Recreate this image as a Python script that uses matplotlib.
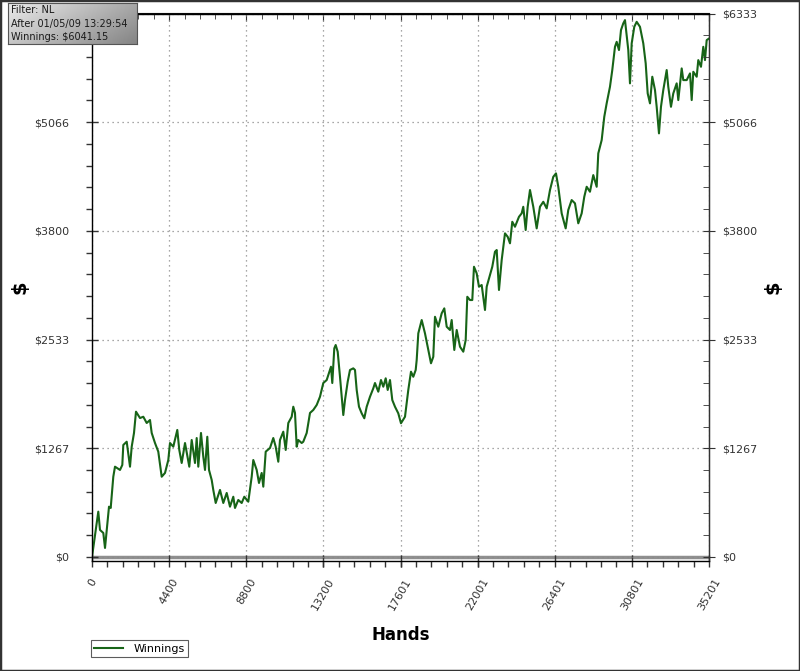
import numpy as np
import matplotlib
matplotlib.use("Agg")
import matplotlib.pyplot as plt
from matplotlib.patches import Rectangle
from matplotlib.lines import Line2D

# hand number vs cumulative winnings ($)
hands = [0, 268, 359, 456, 645, 742, 839, 970, 1067, 1215, 1312, 1597, 1729, 1786, 1980,
         2168, 2265, 2396, 2510, 2738, 2927, 3121, 3309, 3406, 3594, 3782, 3976, 4165,
         4353, 4450, 4638, 4866, 4980, 5117, 5306, 5551, 5688, 5876, 5973, 6064, 6218,
         6350, 6447, 6578, 6675, 6829, 6920, 7057, 7302, 7491, 7685, 7873, 8061, 8158,
         8346, 8540, 8689, 8917, 9111, 9202, 9396, 9527, 9681, 9773, 9910, 10155, 10343,
         10480, 10628, 10725, 10914, 11051, 11199, 11393, 11484, 11581, 11678, 11769,
         11963, 12054, 12249, 12437, 12625, 12819, 13007, 13196, 13390, 13481, 13635,
         13709, 13823, 13903, 14017, 14148, 14245, 14337, 14434, 14588, 14719, 14907,
         15004, 15101, 15232, 15386, 15535, 15672, 15860, 16048, 16145, 16333, 16487,
         16619, 16756, 16870, 17001, 17132, 17286, 17474, 17628, 17857, 18045, 18199,
         18330, 18467, 18524, 18616, 18810, 18997, 19152, 19340, 19471, 19568, 19756,
         19950, 20099, 20236, 20424, 20521, 20670, 20807, 20995, 21183, 21320, 21411,
         21565, 21696, 21793, 21947, 22078, 22232, 22421, 22518, 22706, 22837, 22991,
         23088, 23219, 23373, 23562, 23716, 23847, 23978, 24132, 24286, 24360, 24514,
         24605, 24742, 24857, 24988, 25176, 25370, 25558, 25747, 25941, 26129, 26317,
         26471, 26602, 26796, 27024, 27172, 27366, 27554, 27743, 27937, 28085, 28222,
         28410, 28599, 28793, 28884, 29078, 29226, 29363, 29551, 29683, 29837, 29934,
         30065, 30180, 30311, 30408, 30596, 30693, 30790, 30938, 31075, 31263, 31452,
         31589, 31703, 31834, 31966, 32119, 32216, 32347, 32461, 32593, 32787, 32878,
         33032, 33164, 33357, 33449, 33643, 33734, 33928, 34117, 34214, 34305, 34499,
         34590, 34744, 34875, 34972, 35069, 35201]
winnings = [0, 396, 528, 315, 280, 105, 315, 586, 571, 935, 1052, 1014, 1072, 1305, 1343,
            1052, 1285, 1445, 1693, 1619, 1634, 1561, 1596, 1445, 1328, 1227, 935, 979,
            1130, 1328, 1285, 1480, 1247, 1095, 1328, 1052, 1363, 1095, 1386, 1052, 1445,
            1168, 1014, 1401, 1014, 897, 781, 629, 781, 629, 746, 586, 702, 571,
            664, 629, 702, 644, 935, 1130, 1014, 862, 979, 819, 1227, 1270, 1386,
            1285, 1110, 1363, 1460, 1247, 1561, 1634, 1751, 1678, 1285, 1363,
            1328, 1343, 1445, 1678, 1713, 1771, 1867, 2027, 2062, 2120, 2217,
            2027, 2431, 2470, 2392, 2100, 1867, 1654, 1829, 2042, 2179, 2198,
            2179, 1946, 1751, 1674, 1616, 1751, 1867, 1965, 2027, 1926, 2062,
            1984, 2082, 1946, 2062, 1829, 1751, 1674, 1558, 1634, 1946, 2159,
            2100, 2179, 2295, 2606, 2761, 2606, 2450, 2257, 2333, 2799, 2683,
            2839, 2897, 2683, 2645, 2761, 2412, 2645, 2450, 2392, 2528, 3032,
            2994, 2994, 3382, 3305, 3149, 3169, 2878, 3149, 3285, 3382, 3557,
            3577, 3111, 3460, 3771, 3731, 3655, 3906, 3848, 3926, 3964, 4004,
            4081, 3810, 4081, 4276, 4081, 3829, 4081, 4139, 4062, 4276, 4430,
            4470, 4314, 4004, 3829, 4043, 4159, 4121, 3888, 4004, 4197, 4314,
            4256, 4450, 4314, 4703, 4858, 5129, 5286, 5479, 5674, 5945, 6003,
            5907, 6140, 6218, 6256, 5907, 5519, 5985, 6178, 6236, 6178, 5985,
            5752, 5402, 5286, 5596, 5441, 5246, 4936, 5246, 5441, 5674, 5479,
            5246, 5402, 5519, 5324, 5693, 5557, 5557, 5635, 5324, 5654, 5596,
            5790, 5712, 5945, 5790, 6023, 6041.15]

x_ticks = [0, 4400, 8800, 13200, 17601, 22001, 26401, 30801, 35201]
y_ticks = [0, 1266.6, 2533.2, 3799.8, 5066.4, 6333]
y_labels = ['$0', '$1267', '$2533', '$3800', '$5066', '$6333']
info_lines = ['Filter: NL', 'After 01/05/09 13:29:54', 'Winnings: $6041.15']

W, H = 800, 671
fig = plt.figure(figsize=(W / 100, H / 100), dpi=100)
fig.patch.set_facecolor('white')

# main plot area
ax = fig.add_axes([92 / W, (H - 561) / H, (709 - 92) / W, (561 - 13.5) / H])
ax.set_xlim(0, 35201)
ax.set_ylim(-47, 6333)

ax.axhline(0, color='#8f8f8f', lw=2.5, zorder=1.5)
ax.plot(hands, winnings, color='#176417', lw=1.5, zorder=3, label='Winnings')

ax.set_xticks(x_ticks)
ax.set_xticklabels([str(v) for v in x_ticks], rotation=60, ha='center', va='top')
ax.set_xticks(np.arange(0, 35201, 35201 / 40), minor=True)
ax.set_yticks(y_ticks)
ax.set_yticklabels(y_labels)
ax.set_yticks(np.linspace(0, 6333, 26), minor=True)

ax.tick_params(axis='both', which='major', direction='inout', length=9, width=1,
               labelsize=8, labelcolor='#333333', color='#333333')
ax.tick_params(axis='both', which='minor', direction='out', length=4, width=1,
               color='#333333')
ax.tick_params(axis='y', which='major', pad=12)
ax.tick_params(axis='x', which='major', pad=7)

ax.grid(True, which='major', color='#8a8a8a', linestyle=(0, (1, 3)), lw=0.9)
for s in ax.spines.values():
    s.set_color('#333333')
    s.set_linewidth(1)

# right-hand axis mirrors the left one
ax2 = ax.twinx()
ax2.set_ylim(ax.get_ylim())
ax2.set_yticks(y_ticks)
ax2.set_yticklabels(y_labels)
ax2.set_yticks(np.linspace(0, 6333, 26), minor=True)
ax2.tick_params(axis='y', which='major', direction='inout', length=9, labelsize=8,
                labelcolor='#333333', color='#333333', pad=5)
ax2.tick_params(axis='y', which='minor', direction='in', length=4, color='#333333')
ax2.spines['right'].set_color('#333333')

# top axis: inward ticks only
top = ax.secondary_xaxis('top')
top.set_xticks(x_ticks)
top.set_xticks(np.arange(0, 35201, 35201 / 40), minor=True)
top.tick_params(which='major', direction='in', length=6, labeltop=False, color='#333333')
top.tick_params(which='minor', direction='in', length=4, color='#333333')

ax.set_xlabel('Hands', fontsize=12, fontweight='bold', labelpad=10)
fig.text(20 / W, 1 - 287 / H, '$', fontsize=14, fontweight='bold',
         rotation=90, ha='center', va='center')
fig.text(773 / W, 1 - 287 / H, '$', fontsize=14, fontweight='bold',
         rotation=90, ha='center', va='center')

# legend at bottom left
leg = fig.legend(handles=[Line2D([], [], color='#176417', lw=1.5)], labels=['Winnings'],
                 loc='lower left', bbox_to_anchor=(91 / W, (H - 657) / H),
                 fontsize=8, frameon=True, fancybox=False, borderaxespad=0,
                 borderpad=0.3, handlelength=2.6, handletextpad=0.9)
leg.get_frame().set_edgecolor('#333333')
leg.get_frame().set_linewidth(0.8)

# info box with grey gradient (light top-left, darker bottom-right)
info = fig.add_axes([8 / W, (H - 44) / H, 129 / W, 41 / H])
gx, gy = np.meshgrid(np.linspace(0, 1, 100), np.linspace(0, 1, 40))
shade = 0.92 - 0.26 * gx - 0.14 * gy
info.imshow(shade, cmap='gray', vmin=0, vmax=1, aspect='auto',
            extent=[0, 1, 0, 1], origin='upper')
info.set_xticks([])
info.set_yticks([])
for s in info.spines.values():
    s.set_color('#555555')
info.text(0.025, 0.5, '\n'.join(info_lines), fontsize=7, color='#1a1a1a',
          linespacing=1.45, transform=info.transAxes, va='center', ha='left')

fig.patches.append(Rectangle((0, 0), 1, 1, transform=fig.transFigure, fill=False,
                             edgecolor='#333333', lw=2.5))

fig.savefig('out.png', dpi=100)
